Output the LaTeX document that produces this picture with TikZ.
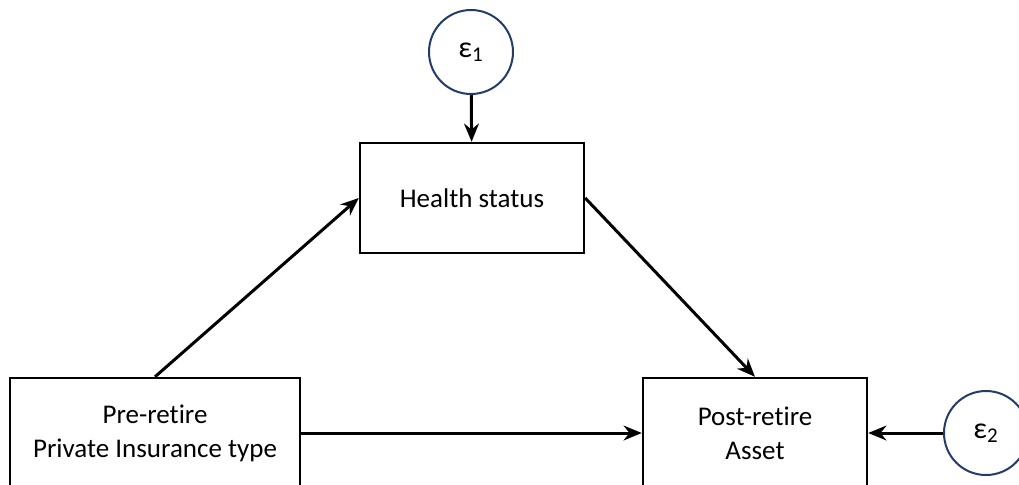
\documentclass[tikz,border=0pt]{standalone}
\usepackage{fontspec}
\setmainfont{Carlito}[Ligatures=NoCommon]
\usepackage{tikz}
\usepackage{xcolor}
\usetikzlibrary{arrows.meta, positioning}
\definecolor{cNavy}{RGB}{36,60,104}
\tikzset{
	varbox/.style  ={rectangle, draw=black, line width=1.2pt, minimum width=112pt, minimum height=55pt, align=center, fill=white},
	errnode/.style ={circle, draw=cNavy, line width=1pt, minimum size=42pt, inner sep=0pt, fill=white, font=\fontsize{15}{17}\selectfont},
	path/.style    ={-{Stealth[length=3.2mm, width=2.6mm]}, line width=1.5pt},
}
\begin{document}
\begin{tikzpicture}[x=0.5pt, y=-0.5pt, font=\fontsize{13.5}{17}\selectfont]
	\clip (0,0) rectangle (1019,484);
	\fill[white] (0,0) rectangle (1019,484);
	% variables
	\node[varbox] (health) at (472,198) {Health status};
	\node[varbox, minimum width=145pt] (pre) at (155,433) {Pre-retire\\Private Insurance type};
	\node[varbox] (post) at (755,433) {Post-retire\\Asset};
	% error terms
	\node[errnode] (e1) at (471,52) {ε\textsubscript{1}};
	\node[errnode] (e2) at (986,433) {ε\textsubscript{2}};
	% paths
	\draw[path] (e1) -- (health);
	\draw[path] (e2) -- (post);
	\draw[path] (pre.north) -- (health.west);
	\draw[path] (health.east) -- (post.north);
	\draw[path] (pre) -- (post);
\end{tikzpicture}
\end{document}
